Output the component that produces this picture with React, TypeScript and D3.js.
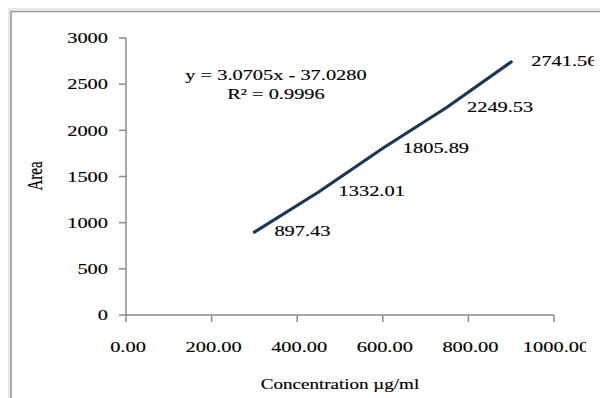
import React from "react";
import * as d3 from "d3";

// Calibration data: concentration (µg/ml) vs peak area
const concentrations = [300, 450, 600, 750, 900];
const areas = [897.43, 1332.01, 1805.89, 2249.53, 2741.56];
const areaLabels = ["897.43", "1332.01", "1805.89", "2249.53", "2741.56"];
const xTicks = [0, 200, 400, 600, 800, 1000];
const yTicks = [0, 500, 1000, 1500, 2000, 2500, 3000];
const equationText = "y = 3.0705x - 37.0280";
const rSquaredText = "R\u00B2 = 0.9996";
const xTitle = "Concentration \u00B5g/ml";
const yTitle = "Area";

const W = 600;
const H = 398;
const FONT = "'Liberation Serif', 'Times New Roman', serif";
const SX = 1.36; // horizontal stretch of the lettering
const AXIS = "#8a8a8a";

function Label({
  x,
  y,
  anchor = "start",
  children,
  size = 15,
  rotate = 0,
}: {
  x: number;
  y: number;
  anchor?: "start" | "middle" | "end";
  children: React.ReactNode;
  size?: number;
  rotate?: number;
}) {
  const t = rotate
    ? `translate(${x},${y}) rotate(${rotate}) scale(1,${SX})`
    : `translate(${x},${y}) scale(${SX},1)`;
  return (
    <text
      transform={t}
      textAnchor={anchor}
      dy="0.35em"
      fontFamily={FONT}
      fontSize={size}
      fill="#000"
      stroke="#000"
      strokeWidth={0.15}
    >
      {children}
    </text>
  );
}

export default function App() {
  const x = d3.scaleLinear().domain([0, 1000]).range([126, 554]);
  const y = d3.scaleLinear().domain([0, 3000]).range([315, 38]);

  const line = d3
    .line<number>()
    .x((_, i) => x(concentrations[i]))
    .y((d) => y(d));

  const fmtX = d3.format(".2f");

  return (
    <svg
      width={W}
      height={H}
      style={{ position: "absolute", left: 0, top: 0, background: "#fff" }}
    >
      <defs>
        <clipPath id="tickClip">
          <rect x={0} y={0} width={586} height={H} />
        </clipPath>
        <clipPath id="labelClip">
          <rect x={0} y={0} width={594} height={H} />
        </clipPath>
      </defs>

      {/* chart frame */}
      <rect x={9} y={9} width={W + 20} height={H + 20} fill="none" stroke="#d4d4d4" strokeWidth={1} />
      <rect x={11} y={11.5} width={W + 20} height={H + 20} fill="none" stroke="#9a9a9a" strokeWidth={1.6} />

      {/* y axis */}
      <line x1={x(0)} x2={x(0)} y1={y(3000)} y2={y(0)} stroke={AXIS} strokeWidth={1.5} />
      {yTicks.map((t) => (
        <g key={`yt${t}`}>
          <line x1={x(0) - 7} x2={x(0)} y1={y(t)} y2={y(t)} stroke={AXIS} strokeWidth={1.5} />
          <Label x={108} y={y(t)} anchor="end">
            {String(t)}
          </Label>
        </g>
      ))}

      {/* x axis */}
      <line x1={x(0)} x2={x(1000)} y1={y(0)} y2={y(0)} stroke={AXIS} strokeWidth={1.5} />
      <g clipPath="url(#tickClip)">
        {xTicks.map((t) => (
          <g key={`xt${t}`}>
            <line x1={x(t)} x2={x(t)} y1={y(0)} y2={y(0) + 7} stroke={AXIS} strokeWidth={1.5} />
            <Label x={x(t) + 2} y={347} anchor="middle">
              {fmtX(t)}
            </Label>
          </g>
        ))}
      </g>

      {/* series line */}
      <path d={line(areas) ?? ""} fill="none" stroke="#1d3656" strokeWidth={3.2} strokeLinecap="round" />

      {/* data labels */}
      <g clipPath="url(#labelClip)">
        {areas.map((v, i) => (
          <Label key={`dl${i}`} x={x(concentrations[i]) + 20} y={y(v) - 1}>
            {areaLabels[i]}
          </Label>
        ))}
      </g>

      {/* trendline equation */}
      <Label x={276} y={75} anchor="middle">
        {equationText}
      </Label>
      <Label x={276} y={94} anchor="middle">
        {rSquaredText}
      </Label>

      {/* axis titles */}
      <Label x={340} y={384} anchor="middle" size={14}>
        {xTitle}
      </Label>
      <Label x={35} y={176} anchor="middle" size={15} rotate={-90}>
        {yTitle}
      </Label>
    </svg>
  );
}
